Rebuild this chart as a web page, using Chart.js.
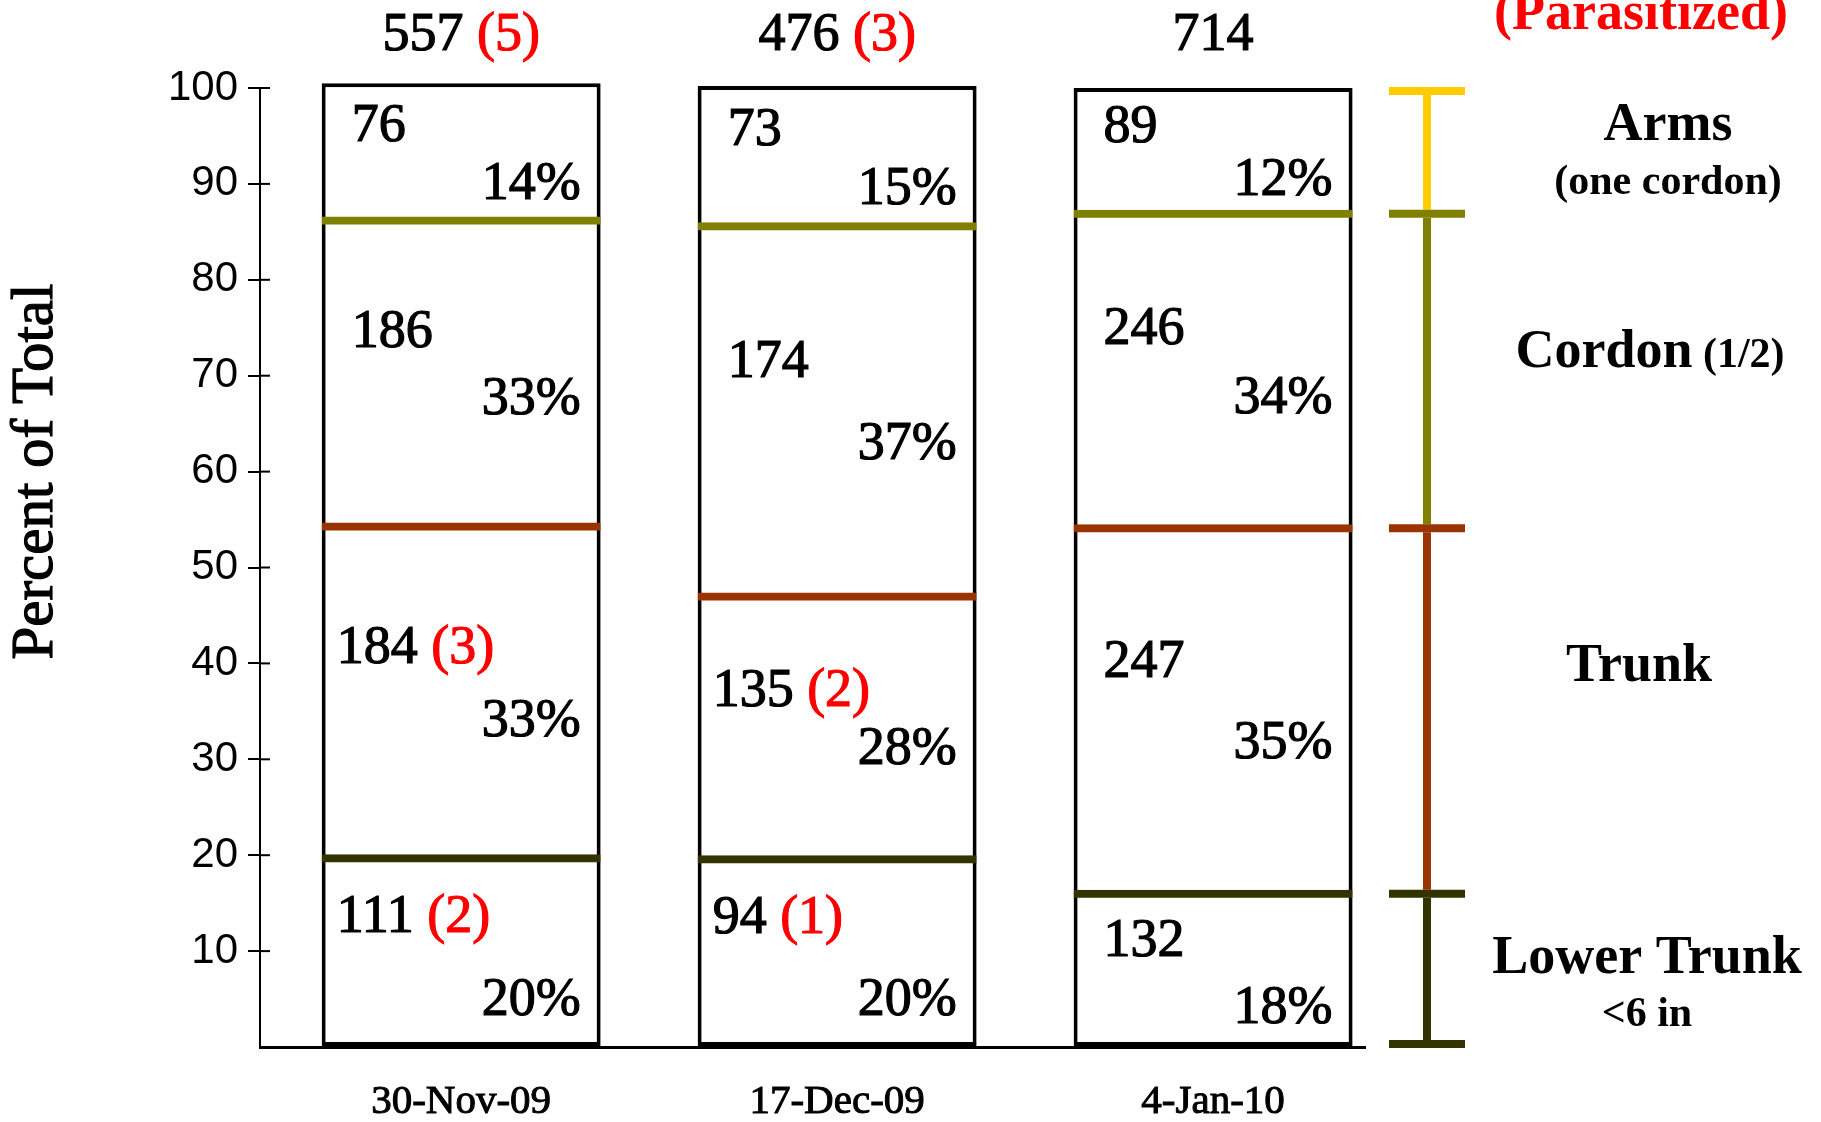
<!DOCTYPE html>
<html>
<head>
<meta charset="utf-8">
<script src="https://cdn.jsdelivr.net/npm/chart.js@4.4.1/dist/chart.umd.min.js"></script>
<style>
  html, body { margin: 0; padding: 0; background: #fff; }
  .chart-box { width: 1821px; height: 1122px; }
</style>
</head>
<body>
<div class="chart-box"><canvas id="myChart"></canvas></div>
<script>
const categories = ['30-Nov-09', '17-Dec-09', '4-Jan-10']
const totals = [557, 476, 714]
const totalsParasitized = [5, 3, null]

const armsCount = [76, 73, 89]
const cordonCount = [186, 174, 246]
const trunkCount = [184, 135, 247]
const lowerCount = [111, 94, 132]
const trunkParasitized = [3, 2, null]
const lowerParasitized = [2, 1, null]

const armsPct = [14, 15, 12]
const cordonPct = [33, 37, 34]
const trunkPct = [33, 28, 35]
const lowerPct = [20, 20, 18]

// section boundaries as drawn on the bars (percent of total)
const lowerTop = [20.1, 20.0, 16.4]
const trunkTop = [54.7, 47.4, 54.5]
const cordonTop = [86.6, 86.0, 87.3]
const boxTop = [100.5, 100.2, 100]

const yTicks = [0, 10, 20, 30, 40, 50, 60, 70, 80, 90, 100]

const serif = "'Liberation Serif', 'Times New Roman', serif"
const sans = "'Liberation Sans', Arial, sans-serif"
const RED = '#ff0000'
const ARMS = '#ffcc00'
const CORDON = '#808000'
const TRUNK = '#993300'
const LOWER = '#333300'

// draw pieces of text one after another: [text, color, font]
// a thin outline makes Times look closer to the heavier original face
const drawParts = (ctx, parts, x, y, align, heavy) => {
    let w = 0
    parts.forEach(p => { ctx.font = p[2]; w += ctx.measureText(p[0]).width })
    let cx = align === 'left' ? x : (align === 'right' ? x - w : x - w / 2)
    ctx.textAlign = 'left'
    parts.forEach(p => {
        ctx.font = p[2]
        ctx.fillStyle = p[1]
        ctx.fillText(p[0], cx, y)
        if (heavy) {
            ctx.strokeStyle = p[1]
            ctx.lineWidth = heavy
            ctx.strokeText(p[0], cx, y)
        }
        cx += ctx.measureText(p[0]).width
    })
}

const extras = {
    id: 'extras',
    afterDraw(chart) {
        const ctx = chart.ctx
        const y = chart.scales.y
        const area = chart.chartArea
        const boxes = chart.getDatasetMeta(0).data
        const numFont = '54px ' + serif
        ctx.save()

        // inner half of the y ticks
        ctx.strokeStyle = '#000'
        ctx.lineWidth = 2
        yTicks.forEach(v => {
            if (v === 0) return
            const py = y.getPixelForValue(v)
            ctx.beginPath()
            ctx.moveTo(area.left, py)
            ctx.lineTo(area.left + 10, py)
            ctx.stroke()
        })

        // y title
        ctx.save()
        ctx.translate(36, y.getPixelForValue(60))
        ctx.rotate(-Math.PI / 2)
        ctx.textBaseline = 'middle'
        drawParts(ctx, [['Percent of Total', '#000', '59px ' + serif]], 0, 0, 'center', 1.2)
        ctx.restore()

        // totals above the bars
        ctx.textBaseline = 'alphabetic'
        boxes.forEach((bar, i) => {
            const parts = [[String(totals[i]), '#000', numFont]]
            if (totalsParasitized[i] != null) parts.push([' (' + totalsParasitized[i] + ')', RED, numFont])
            drawParts(ctx, parts, bar.x, y.getPixelForValue(100) - 38, 'center', 1.2)
        })
        drawParts(ctx, [['(Parasitized)', RED, 'bold 54px ' + serif]], 1641, 29, 'center')

        // counts and percentages inside each section
        ctx.textBaseline = 'middle'
        boxes.forEach((bar, i) => {
            const left = bar.x - bar.width / 2
            const right = bar.x + bar.width / 2
            const segs = [
                [cordonTop[i], boxTop[i], armsCount[i], null, armsPct[i]],
                [trunkTop[i], cordonTop[i], cordonCount[i], null, cordonPct[i]],
                [lowerTop[i], trunkTop[i], trunkCount[i], trunkParasitized[i], trunkPct[i]],
                [0, lowerTop[i], lowerCount[i], lowerParasitized[i], lowerPct[i]]
            ]
            segs.forEach(s => {
                const top = y.getPixelForValue(s[1])
                const bot = y.getPixelForValue(s[0])
                const h = bot - top
                const small = h < 200
                const parts = [[String(s[2]), '#000', numFont]]
                if (s[3] != null) parts.push([' (' + s[3] + ')', RED, numFont])
                drawParts(ctx, parts, left + (s[3] != null ? 15 : 30), top + (small ? 0.33 : 0.38) * h, 'left', 1.2)
                drawParts(ctx, [[s[4] + '%', '#000', numFont]], right - 20, top + (small ? 0.76 : 0.6) * h, 'right', 1.2)
            })
        })

        // bracket legend on the right, following the last bar
        const last = boxes.length - 1
        const bx = area.right + 62
        const levels = [0, lowerTop[last], trunkTop[last], cordonTop[last], 100]
        const cols = [LOWER, TRUNK, CORDON, ARMS]
        const capY = v => {
            if (v === 100) return y.getPixelForValue(v) + 3
            if (v === 0) return y.getPixelForValue(v) - 3
            return y.getPixelForValue(v) + 4
        }
        ctx.lineWidth = 8
        cols.forEach((c, k) => {
            ctx.strokeStyle = c
            ctx.beginPath()
            ctx.moveTo(bx, capY(levels[k]) - 4)
            ctx.lineTo(bx, capY(levels[k + 1]) + 4)
            ctx.stroke()
        })
        levels.forEach((v, k) => {
            ctx.strokeStyle = k === 0 ? LOWER : cols[k - 1]
            ctx.beginPath()
            ctx.moveTo(bx - 38, capY(v))
            ctx.lineTo(bx + 38, capY(v))
            ctx.stroke()
        })

        const big = 'bold 54px ' + serif
        const small = 'bold 42px ' + serif
        const mid = k => (capY(levels[k]) + capY(levels[k + 1])) / 2
        ctx.textBaseline = 'alphabetic'
        drawParts(ctx, [['Arms', '#000', big]], 1668, mid(3) - 12, 'center')
        drawParts(ctx, [['(one cordon)', '#000', small]], 1668, mid(3) + 42, 'center')
        drawParts(ctx, [['Cordon', '#000', big], [' (1/2)', '#000', small]], 1650, mid(2) - 4, 'center')
        drawParts(ctx, [['Trunk', '#000', big]], 1639, mid(1) - 30, 'center')
        drawParts(ctx, [['Lower Trunk', '#000', big]], 1647, mid(0) + 4, 'center')
        drawParts(ctx, [['<6 in', '#000', small]], 1647, mid(0) + 57, 'center')

        ctx.restore()
    }
}

const section = (lo, hi, color) => ({
    data: hi.map((v, i) => ({ x: i, y: [lo ? lo[i] : 0, v] })),
    backgroundColor: 'rgba(0,0,0,0)',
    borderColor: color,
    borderWidth: { top: 8, left: 0, right: 0, bottom: 0 },
    borderSkipped: false,
    grouped: false,
    clip: false,
    order: 1
})

const diagramm = () => {
    const ctx = document.getElementById('myChart').getContext('2d')

    const data = {
        datasets: [
            {
                data: boxTop.map((v, i) => ({ x: i, y: [0, v] })),
                backgroundColor: '#fff',
                borderColor: '#000',
                borderWidth: 4,
                borderSkipped: false,
                grouped: false,
                clip: false,
                order: 2
            },
            section(trunkTop, cordonTop, CORDON),
            section(lowerTop, trunkTop, TRUNK),
            section(null, lowerTop, LOWER)
        ]
    }

    const config = {
        type: 'bar',
        data: data,
        options: {
            responsive: true,
            maintainAspectRatio: false,
            animation: false,
            devicePixelRatio: 1,
            categoryPercentage: 0.742,
            barPercentage: 1,
            layout: { padding: { top: 88, right: 456, bottom: 0, left: 0 } },
            plugins: {
                legend: { display: false },
                tooltip: { enabled: false }
            },
            scales: {
                x: {
                    type: 'linear',
                    offset: false,
                    min: -0.535,
                    max: 2.404,
                    afterBuildTicks: axis => {
                        axis.ticks = categories.map((c, i) => ({ value: i }))
                    },
                    afterFit: scale => { scale.height = 75 },
                    ticks: {
                        callback: v => categories[v],
                        color: '#000',
                        textStrokeColor: '#000',
                        textStrokeWidth: 1,
                        padding: 31,
                        maxRotation: 0,
                        autoSkip: false,
                        font: { family: serif, size: 41 }
                    },
                    grid: { display: false, drawTicks: false },
                    border: { display: true, color: '#000', width: 3 }
                },
                y: {
                    min: 0,
                    max: 100,
                    afterBuildTicks: axis => {
                        axis.ticks = yTicks.map(v => ({ value: v }))
                    },
                    afterFit: scale => { scale.width = 260 },
                    ticks: {
                        callback: v => v === 0 ? '' : v,
                        color: '#000',
                        padding: 10,
                        font: { family: sans, size: 42 }
                    },
                    grid: {
                        drawOnChartArea: false,
                        tickLength: 12,
                        lineWidth: 2,
                        color: c => c.tick && c.tick.value === 0 ? 'rgba(0,0,0,0)' : '#000'
                    },
                    border: { display: true, color: '#000', width: 2 }
                }
            }
        },
        plugins: [extras]
    }

    const myChart = new Chart(ctx, config)
}

diagramm()
</script>
</body>
</html>
